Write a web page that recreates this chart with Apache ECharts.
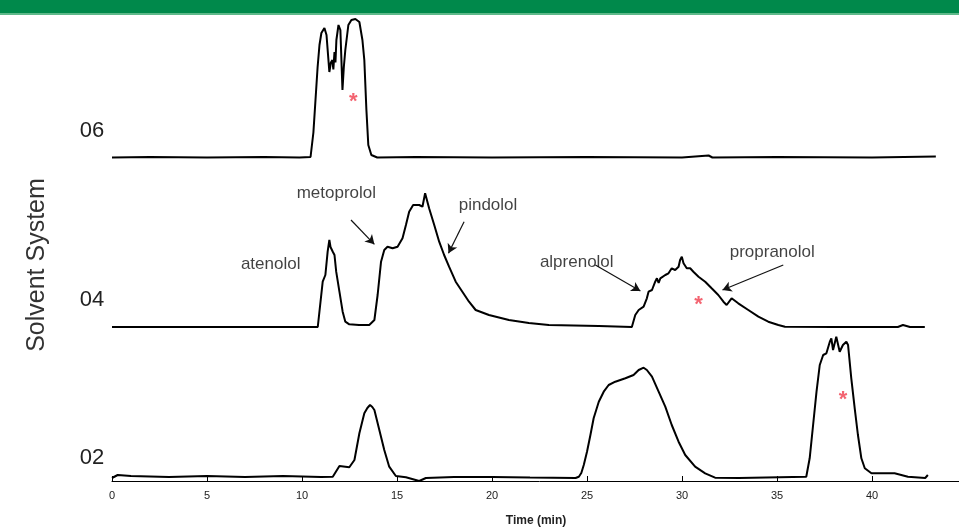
<!DOCTYPE html>
<html><head><meta charset="utf-8">
<script src="https://cdn.jsdelivr.net/npm/echarts@6/dist/echarts.min.js"></script>
<style>html,body{margin:0;padding:0;background:#fff;overflow:hidden}#c{width:970px;height:532px}</style>
</head><body><div id="c"></div>
<script>
// ---- data ----
const xTicks = [0,5,10,15,20,25,30,35,40];
const rowLabels = ['06','04','02'];
const baseline06 = 323.5, baseline04 = 154, baseline02 = 3;

const t06 = [0,2,5,8,9.87,10.45,10.6,10.71,10.82,10.92,11.02,11.18,11.29,11.44,11.52,11.6,11.65,11.71,11.76,11.81,11.92,12.02,12.13,12.2,12.28,12.44,12.6,12.81,13.02,13.18,13.28,13.39,13.49,13.65,13.96,16,20,25,30,31.4,31.6,35,40,43.36];
const v06 = [0,0.5,0,0.5,0,0.5,25,57.5,90,112.5,124.5,129.5,122.5,85.5,95,97.5,88,105.5,95,117.5,132.5,127.5,67.5,90,107.5,132.5,137.5,138.5,135.5,117.5,97.5,47.5,12.5,2.5,0,0.5,0,0.5,0,2,0,0.5,0,1];

const t04 = [0,4.6,7.9,8,9.2,9.3,9.87,9.95,10.83,11.09,11.23,11.35,11.44,11.5,11.53,11.62,11.71,11.8,11.97,12.14,12.28,12.49,13.0,13.54,13.81,13.98,14.16,14.33,14.5,14.77,15.03,15.29,15.47,15.64,15.85,16.17,16.34,16.48,16.55,16.69,16.96,17.22,17.48,17.74,18.09,18.44,18.79,19.14,19.84,20.89,21.94,22.99,25.62,27.36,27.54,27.72,27.98,28.15,28.24,28.42,28.59,28.68,28.77,28.86,29.12,29.29,29.46,29.64,29.82,29.9,29.99,30.08,30.17,30.25,30.43,30.6,30.87,31.22,31.56,31.91,32.18,32.35,32.61,32.96,33.49,34.02,34.54,35.07,35.42,38,41.36,41.63,42,42.78];
const v04 = [0,0,0,2,0,2,0,2,0,45.3,52,75.3,87,80,82,75.3,72,55.3,35.3,15.3,5.3,2.7,2,2,7,32,65.3,77,80.3,78.7,80.3,88.7,102,115.3,122,122,120.3,133.7,128.7,118.7,102,85.3,72,60.3,45.3,35.3,25.3,17,12,7,4,2,1,0,12,17,20.3,28.7,35.3,37,45.3,48.7,44,48.7,52,53.7,58.7,57,60.3,67,70.3,63.7,65.3,58.7,58.7,55.3,50.3,45.3,38.7,32,25.3,22,28.7,23.7,17,10.3,5.3,2,0.3,0,0,2,0,0];

const t02 = [0,0.3,1,3,5,7,9,11,11.62,11.97,12.49,12.76,13.02,13.28,13.44,13.58,13.7,13.81,14.07,14.33,14.59,14.94,15.47,16.17,16.52,18,20,22,24.4,24.57,24.7,24.83,25,25.18,25.35,25.62,25.88,26.14,26.49,27.02,27.45,27.72,27.98,28.15,28.42,28.77,29.12,29.46,29.82,30.17,30.69,31.22,31.74,33,36.54,36.72,36.9,37.08,37.25,37.43,37.6,37.78,37.86,37.95,38.12,38.3,38.47,38.65,38.74,38.91,39.09,39.26,39.44,39.62,39.97,40.49,41.19,41.89,42.8,42.94];
const v02 = [0,3,2,1,2,1,2,1,1.3,12,10.7,18,44.7,64.7,70,73,71,68,48,28,11.3,2,0.7,-3,0,1,1,0.5,0,1.3,5,13,26.3,43,59.7,76.3,86.3,93,96.3,99.7,103,108,110.3,108,101.3,86.3,71.3,53,36.3,23,11.3,4.7,0.3,0,1.3,19.7,53,86.3,113,123,124.7,136.3,139.7,128,141.3,126.3,133,136.3,133,99.7,69.7,43,19.7,9.7,4.7,4.7,4.7,1.3,0,3];

// red asterisks [time, absolute value]
const asterisks = [[12.70,384],[30.87,181],[38.48,86]];
// annotation labels [name, time, value]
const annoNames = ['atenolol','metoprolol','pindolol','alprenolol','propranolol'];
const annoPos = [[8.35,217],[11.81,288],[19.79,276],[24.46,219],[34.75,229]];
// arrows [fromT, fromV, toT, toV]
const arrows = [[12.58,261,13.81,236.7],[18.53,259.3,17.71,227.7],[25.44,216,27.81,190],[35.33,216,32.13,191]];

// ---- chart ----
const mk = (ts, vs, off) => ts.map((t,i)=>[t, vs[i]+off]);
const lineStyle = {color:'#000', width:2};
const chart = echarts.init(document.getElementById('c'));
chart.setOption({
  animation:false,
  backgroundColor:'#fff',
  grid:{left:112, right:0.75, top:14, bottom:51},
  xAxis:{
    type:'value', min:0, max:45, interval:5,
    name:'Time (min)', nameLocation:'middle', nameGap:34,
    nameTextStyle:{fontFamily:'Liberation Sans Narrow, Liberation Sans, Arial', fontWeight:'bold', fontSize:12, color:'#222', padding:[0,7,0,0]},
    axisLine:{lineStyle:{color:'#000', width:1}},
    axisTick:{inside:true, length:5, lineStyle:{color:'#000'}},
    axisLabel:{fontFamily:'Liberation Sans Narrow, Liberation Sans, Arial', fontSize:11, color:'#222', margin:9,
      formatter:v=> xTicks.indexOf(v)>=0 ? String(v) : ''},
    splitLine:{show:false}
  },
  yAxis:{type:'value', min:0, max:467, show:false},
  series:[
    {type:'line', data:mk(t06,v06,baseline06), showSymbol:false, lineStyle, silent:true},
    {type:'line', data:mk(t04,v04,baseline04), showSymbol:false, lineStyle, silent:true},
    {type:'line', data:mk(t02,v02,baseline02), showSymbol:false, lineStyle, silent:true},
    {type:'scatter', data:asterisks, symbolSize:0, silent:true,
      label:{show:true, position:'inside', formatter:'*', color:'#f03c4c', fontSize:22, fontWeight:'bold', fontFamily:'Liberation Sans', offset:[0,5]}},
    {type:'scatter', data:annoNames.map((n,i)=>({name:n, value:annoPos[i]})), symbolSize:0, silent:true,
      label:{show:true, position:'inside', formatter:'{b}', color:'#111', fontSize:17, fontFamily:'Liberation Sans'},
      markLine:{silent:true, symbol:['none','arrow'], symbolSize:[8,9], animation:false,
        lineStyle:{color:'#111', width:1.2, type:'solid'}, label:{show:false},
        data:arrows.map(a=>[{coord:[a[0],a[1]]},{coord:[a[2],a[3]]}])}}
  ],
  graphic:[
    {type:'rect', shape:{x:0,y:0,width:970,height:13}, style:{fill:'#00894b'}},
    {type:'rect', shape:{x:0,y:13,width:970,height:2}, style:{fill:'#5fb98a'}},
    {type:'text', rotation:Math.PI/2, x:37, y:265, style:{text:'Solvent System', fontSize:25, fill:'#333', fontFamily:'Liberation Sans', textAlign:'center', textVerticalAlign:'middle'}},
    ...rowLabels.map((r,i)=>({type:'text', x:92, y:[131,300,458][i], style:{text:r, fontSize:22, fill:'#222', fontFamily:'Liberation Sans', textAlign:'center', textVerticalAlign:'middle'}}))
  ]
});
</script></body></html>
